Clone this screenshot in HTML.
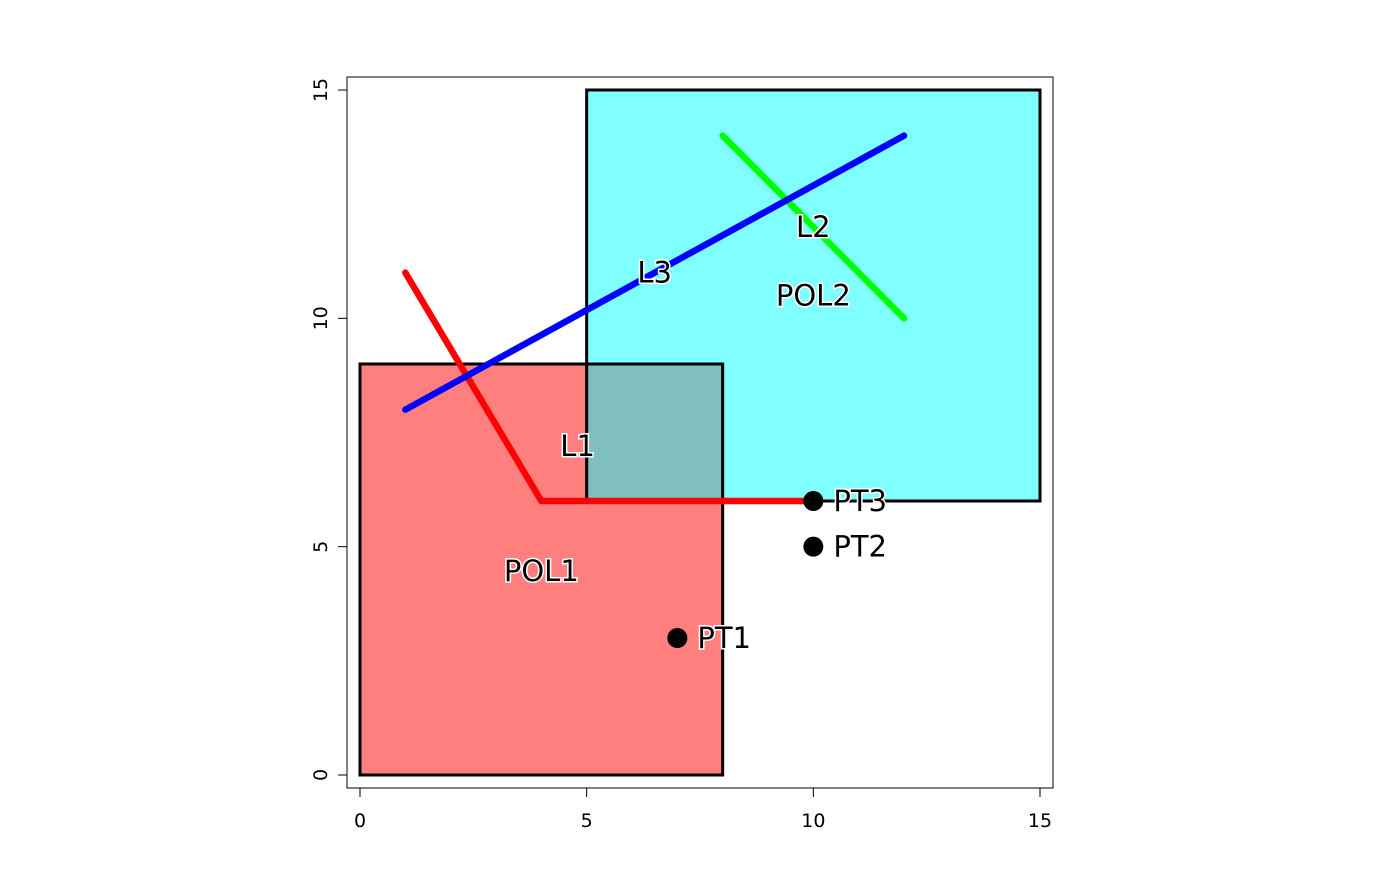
<!DOCTYPE html>
<html><head><meta charset="utf-8"><style>
body{margin:0;background:#fff}
svg text{font-family:"DejaVu Sans","Liberation Sans",sans-serif}
</style></head><body>
<svg id="chart" width="1400" height="866" xmlns="http://www.w3.org/2000/svg">
<g id="layer"></g>
</svg>
<script>
const polyNames=["POL1","POL2"];
const polyX0=[0,5], polyX1=[8,15], polyY0=[0,6], polyY1=[9,15];
const polyFill=["#ff0000","#00ffff"];
const polyLabelX=[4,10], polyLabelY=[4.47,10.5];
const lineNames=["L1","L2","L3"];
const lineXs=[[1,4,10],[8,12],[1,12]];
const lineYs=[[11,6,6],[14,10],[8,14]];
const lineColor=["#ff0000","#00ff00","#0000ff"];
const lineLabelX=[4.8,10,6.5], lineLabelY=[7.2,12,11];
const ptNames=["PT1","PT2","PT3"];
const ptX=[7,10,10], ptY=[3,5,6];
const xTicks=[0,5,10,15], yTicks=[0,5,10,15];
const sx=v=>360+v*(680/15), sy=v=>775-v*(685/15);
const NS="http://www.w3.org/2000/svg", g=document.getElementById('layer');
function mk(t,a){const e=document.createElementNS(NS,t);for(const k in a)e.setAttribute(k,a[k]);g.appendChild(e);return e;}
let e=mk('rect',{x:347,y:77,width:706,height:711,fill:'none',stroke:'#000','stroke-width':1});


polyNames.forEach((n,i)=>{
 e=mk('rect',{x:sx(polyX0[i]),y:sy(polyY1[i]),width:sx(polyX1[i])-sx(polyX0[i]),height:sy(polyY0[i])-sy(polyY1[i]),fill:polyFill[i],'fill-opacity':0.5,stroke:'none'});
 
 
});
polyNames.forEach((n,i)=>{
 e=mk('rect',{x:sx(polyX0[i]),y:sy(polyY1[i]),width:sx(polyX1[i])-sx(polyX0[i]),height:sy(polyY0[i])-sy(polyY1[i]),fill:'none',stroke:'#000','stroke-width':3});
 
 
});
lineNames.forEach((n,i)=>{
 e=mk('polyline',{points:lineXs[i].map((x,j)=>sx(x)+','+sy(lineYs[i][j])).join(' '),fill:'none',stroke:lineColor[i],'stroke-width':6.5,'stroke-linecap':'round','stroke-linejoin':'round'});
 
 
});
ptNames.forEach((n,i)=>{
 e=mk('circle',{cx:sx(ptX[i]),cy:sy(ptY[i]),r:10,fill:'#000'});
 
 
});
function label(txt,x,y,anchor,name){
 e=mk('text',{x:x,y:y,'font-size':29,'text-anchor':anchor,'dominant-baseline':'central',fill:'#000',stroke:'#fff','stroke-width':3,'paint-order':'stroke'});
 e.textContent=txt;
 
 
}
polyNames.forEach((n,i)=>label(n,sx(polyLabelX[i]),sy(polyLabelY[i]),'middle','label-'+n.toLowerCase()));
lineNames.forEach((n,i)=>label(n,sx(lineLabelX[i]),sy(lineLabelY[i]),'middle','label-'+n.toLowerCase()));
ptNames.forEach((n,i)=>label(n,sx(ptX[i])+20,sy(ptY[i]),'start','label-'+n.toLowerCase()));
xTicks.forEach(t=>{
 e=mk('line',{x1:sx(t),x2:sx(t),y1:788,y2:797,stroke:'#000','stroke-width':1});
 
 
 e=mk('text',{x:sx(t),y:827,'font-size':19,'text-anchor':'middle'});e.textContent=t;
 
 
});
yTicks.forEach(t=>{
 e=mk('line',{x1:338,x2:347,y1:sy(t),y2:sy(t),stroke:'#000','stroke-width':1});
 
 
 e=mk('text',{x:0,y:0,'font-size':19,'text-anchor':'middle',transform:`translate(327,${sy(t)}) rotate(-90)`});e.textContent=t;
 
 
});
</script>
</body></html>
